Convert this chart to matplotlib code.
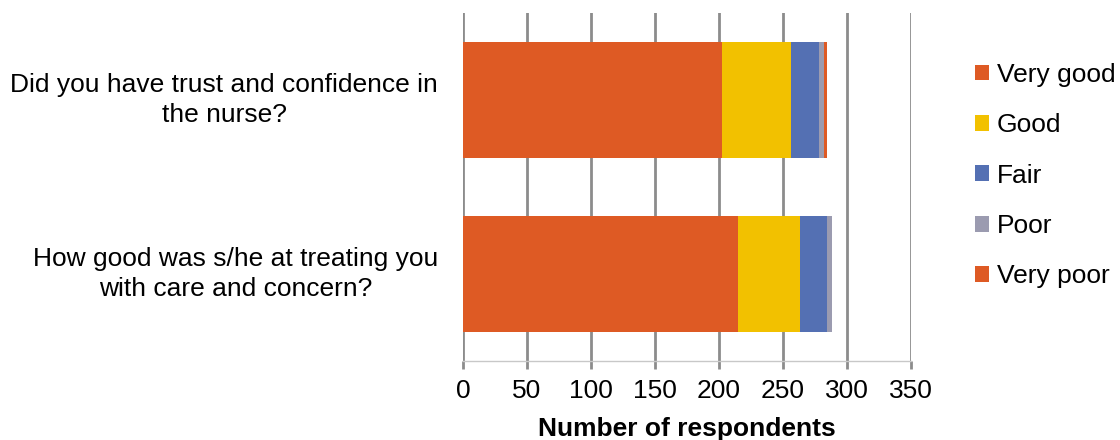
import matplotlib
matplotlib.use("Agg")
import matplotlib.pyplot as plt
import matplotlib.transforms as mtransforms
import numpy as np

plt.rcParams['font.family'] = ['Liberation Sans', 'DejaVu Sans']

questions = [
    "Did you have trust and confidence in\nthe nurse?",
    "How good was s/he at treating you\nwith care and concern?",
]
ratings = ["Very good", "Good", "Fair", "Poor", "Very poor"]
very_good = [202, 215]
good = [54, 48]
fair = [22, 21]
poor = [4, 4]
very_poor = [2, 0]
colors = ["#DE5A24", "#F2C100", "#5470B3", "#9B9BB0", "#DE5A24"]
x_ticks = [0, 50, 100, 150, 200, 250, 300, 350]

series = [very_good, good, fair, poor, very_poor]
FS = 19

fig = plt.figure(figsize=(11.2, 4.4), dpi=100)
ax = fig.add_axes([463 / 1120, 1 - 361 / 440, 448 / 1120, 348 / 440])

ypos = np.arange(len(questions))
left = np.zeros(len(questions))
for name, vals, col in zip(ratings, series, colors):
    ax.barh(ypos, vals, left=left, height=0.667, color=col, label=name, zorder=3)
    left += np.array(vals)

ax.set_xlim(0, 350)
ax.set_ylim(len(questions) - 0.5, -0.5)
ax.set_xticks(x_ticks)
ax.set_xticklabels([str(t) for t in x_ticks], fontsize=FS)
ax.set_yticks(ypos)
ax.set_yticklabels(questions, fontsize=FS, multialignment='center', linespacing=1.32)
ax.tick_params(axis='y', length=0, pad=18)
ax.tick_params(axis='x', length=6, width=2, color='#8C8C8C', pad=7)

# nudge the question labels up a little so they sit centred on the bars
lift = mtransforms.ScaledTranslation(0, 4 / 72, fig.dpi_scale_trans)
for lbl in ax.get_yticklabels():
    lbl.set_transform(lbl.get_transform() + lift)

ax.grid(axis='x', color='#8C8C8C', linewidth=2, zorder=0)
for side in ['top', 'right', 'left']:
    ax.spines[side].set_visible(False)
ax.spines['bottom'].set_color('#C8C8C8')
ax.spines['bottom'].set_linewidth(1)

ax.set_xlabel("Number of respondents", fontsize=FS, fontweight='bold', labelpad=10)

leg = ax.legend(loc='upper left', bbox_to_anchor=(1.089, 0.925), frameon=False,
                fontsize=FS, handlelength=0.55, handleheight=0.55,
                handletextpad=0.28, labelspacing=1.0)

fig.savefig("out.png", dpi=100)
